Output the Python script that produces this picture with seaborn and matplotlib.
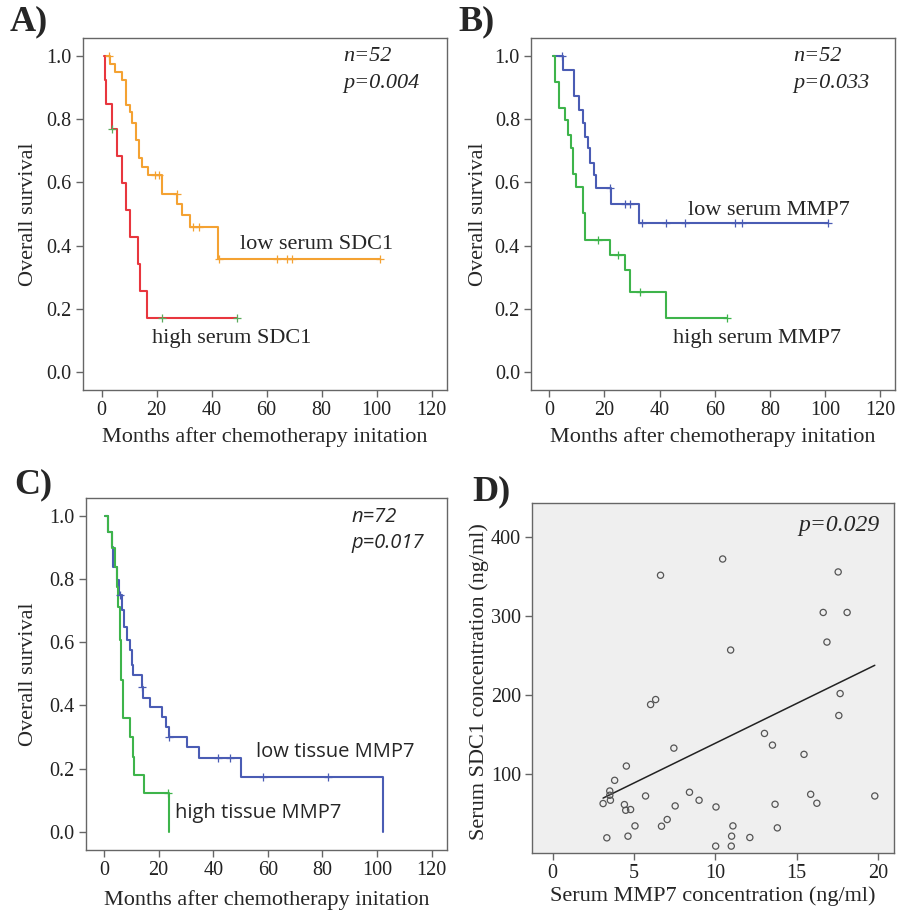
import numpy as np
import pandas as pd
import matplotlib
matplotlib.use("Agg")
import matplotlib.pyplot as plt
import seaborn as sns

# ---------------- data ----------------
# Panel A: serum SDC1
a_low_t = [1.2, 3.2, 4.8, 7.3, 8.7, 10.3, 11.1, 12.5, 13.7, 14.5, 17.0, 21.8, 27.5, 29.1, 32.1, 42.2, 101.2]
a_low_s = [1.0, 0.974, 0.948, 0.923, 0.845, 0.823, 0.787, 0.734, 0.677, 0.650, 0.623, 0.563, 0.532, 0.497, 0.460, 0.357, 0.357]
a_low_c = [2.8, 19.5, 21.0, 27.3, 33.3, 35.5, 42.6, 63.6, 67.3, 69.1, 101.2]
a_high_t = [1.0, 1.3, 1.6, 3.6, 5.7, 7.5, 8.7, 10.3, 13.3, 13.9, 16.4, 49.1]
a_high_s = [1.0, 0.923, 0.846, 0.769, 0.684, 0.598, 0.513, 0.427, 0.342, 0.256, 0.171, 0.171]
a_high_c = [3.8, 21.8, 49.1]

# Panel B: serum MMP7
b_low_t = [1.5, 5.1, 9.1, 10.9, 12.1, 13.0, 13.9, 14.7, 16.3, 16.9, 22.4, 32.5, 101.1]
b_low_s = [1.0, 0.955, 0.872, 0.828, 0.786, 0.744, 0.707, 0.662, 0.623, 0.581, 0.531, 0.472, 0.472]
b_low_c = [4.5, 22.0, 27.4, 29.2, 33.5, 42.5, 49.2, 67.3, 69.7, 101.1]
b_high_t = [1.5, 2.1, 3.6, 5.7, 6.9, 7.8, 8.7, 9.7, 12.3, 12.9, 22.0, 27.4, 29.2, 42.3, 64.3]
b_high_s = [1.0, 0.918, 0.834, 0.797, 0.749, 0.710, 0.626, 0.586, 0.502, 0.417, 0.370, 0.323, 0.255, 0.171, 0.171]
b_high_c = [17.8, 25.0, 32.9, 64.3]

# Panel C: tissue MMP7
c_low_t = [0.4, 1.6, 2.8, 3.4, 4.6, 5.6, 6.7, 7.4, 8.3, 9.5, 10.1, 10.7, 13.8, 14.2, 16.8, 21.1, 22.7, 23.8, 30.3, 34.8, 50.1, 102.1]
c_low_s = [1.0, 0.950, 0.903, 0.839, 0.797, 0.750, 0.702, 0.649, 0.607, 0.576, 0.528, 0.496, 0.459, 0.423, 0.396, 0.364, 0.333, 0.301, 0.269, 0.232, 0.174, 0.0]
c_low_c = [5.8, 13.8, 23.9, 41.9, 46.2, 58.4, 82.2]
c_high_t = [0.4, 1.6, 2.8, 4.0, 4.6, 5.2, 5.9, 6.2, 6.8, 9.5, 10.5, 11.0, 14.8, 23.8]
c_high_s = [1.0, 0.95, 0.90, 0.839, 0.776, 0.713, 0.607, 0.480, 0.359, 0.301, 0.238, 0.180, 0.122, 0.0]
c_high_c = [23.6]

# Panel D: scatter
mmp7 = [10.45, 6.63, 17.55, 16.63, 18.1, 10.94, 16.86, 17.67, 17.59, 6.33, 6.02, 13.02, 13.51, 7.45,
        15.45, 4.53, 3.81, 3.51, 3.51, 3.55, 3.10, 4.41, 4.49, 4.79, 5.71, 8.41, 9.0, 7.53, 10.04,
        7.04, 5.06, 6.69, 3.33, 4.63, 11.08, 11.0, 12.12, 10.02, 10.98, 13.67, 13.81, 15.86, 16.24, 19.8]
sdc1 = [372.7, 352.1, 356.3, 305.0, 305.0, 257.4, 267.5, 202.3, 174.5, 194.7, 188.4, 151.8, 137.0, 133.2,
        125.3, 110.5, 92.4, 78.9, 73.5, 67.2, 63.0, 61.7, 54.5, 55.4, 72.6, 77.3, 67.2, 60.0, 58.7,
        42.8, 34.7, 34.3, 19.6, 21.7, 34.7, 21.7, 20.0, 9.1, 9.1, 62.1, 32.2, 74.7, 63.4, 72.6]
# fitted line as printed in the figure
fit_slope = 10.07
fit_intercept = 38.7

km_ticks = [0, 20, 40, 60, 80, 100, 120]
surv_ticks = [0.0, 0.2, 0.4, 0.6, 0.8, 1.0]

# ---------------- style ----------------
sns.set_style("ticks")
plt.rcParams["font.family"] = ["Liberation Serif", "DejaVu Serif"]
SERIF = "Liberation Serif"
SANS = "Open Sans"

ORANGE = "#F4A232"
RED = "#E8363E"
BLUE = "#4A5CB4"
GREEN = "#3EB44B"
SPINE = "#666666"

W, H = 900, 918
fig = plt.figure(figsize=(9, 9.18), dpi=100)


def add_ax(l, r, t, b):
    return fig.add_axes([l / W, 1 - b / H, (r - l) / W, (b - t) / H])


def style_ax(ax):
    for sp in ax.spines.values():
        sp.set_color(SPINE)
        sp.set_linewidth(1.0)
    ax.tick_params(direction="out", length=5, width=1, color=SPINE,
                   labelsize=14.5, labelcolor="#222222", pad=3)
    for lab in ax.get_xticklabels() + ax.get_yticklabels():
        lab.set_fontfamily(SERIF)


def km(ax, t, s, cens, color, ccolor):
    df = pd.DataFrame({"t": t, "s": s})
    sns.lineplot(data=df, x="t", y="s", ax=ax, color=color, lw=1.5,
                 drawstyle="steps-post", estimator=None, sort=False)
    t_arr = np.asarray(t)
    s_arr = np.asarray(s)
    idx = np.clip(np.searchsorted(t_arr, cens, side="right") - 1, 0, len(s_arr) - 1)
    cdf = pd.DataFrame({"t": cens, "s": s_arr[idx]})
    sns.scatterplot(data=cdf, x="t", y="s", ax=ax, marker="+", s=28, color=ccolor,
                    linewidth=0.9, zorder=4)


def km_axes(ax, xlim, ylim):
    ax.set_xlim(*xlim)
    ax.set_ylim(*ylim)
    ax.set_xticks(km_ticks)
    ax.set_yticks(surv_ticks)
    ax.set_yticklabels([f"{v:.1f}" for v in surv_ticks])
    ax.set_xlabel("Months after chemotherapy initation", fontsize=16, fontfamily=SERIF)
    ax.set_ylabel("Overall survival", fontsize=16, fontfamily=SERIF)
    style_ax(ax)


# ---- Panel A ----
axA = add_ax(82.7, 446.7, 38.3, 390)
km(axA, a_low_t, a_low_s, a_low_c, ORANGE, ORANGE)
km(axA, a_high_t, a_high_s, a_high_c, RED, "#5DAA5D")
km_axes(axA, (-6.9, 125.5), (-0.056, 1.055))
axA.xaxis.set_label_coords(0.5, -0.105)
axA.yaxis.set_label_coords(-0.124, 0.5)
axA.text(87.9, 0.997, "n=52", fontsize=16, style="italic", va="center", fontfamily=SERIF)
axA.text(87.9, 0.912, "p=0.004", fontsize=16, style="italic", va="center", fontfamily=SERIF)
axA.text(50.3, 0.405, "low serum SDC1", fontsize=16, va="center", fontfamily=SERIF)
axA.text(18.2, 0.137, "high serum SDC1", fontsize=16, va="top", fontfamily=SERIF)

# ---- Panel B ----
axB = add_ax(531, 895, 38.3, 390)
km(axB, b_low_t, b_low_s, b_low_c, BLUE, BLUE)
km(axB, b_high_t, b_high_s, b_high_c, GREEN, GREEN)
km_axes(axB, (-6.6, 125.3), (-0.056, 1.055))
axB.xaxis.set_label_coords(0.5, -0.105)
axB.yaxis.set_label_coords(-0.119, 0.5)
axB.text(88.4, 0.997, "n=52", fontsize=16, style="italic", va="center", fontfamily=SERIF)
axB.text(88.4, 0.912, "p=0.033", fontsize=16, style="italic", va="center", fontfamily=SERIF)
axB.text(50.4, 0.512, "low serum MMP7", fontsize=16, va="center", fontfamily=SERIF)
axB.text(44.7, 0.137, "high serum MMP7", fontsize=16, va="top", fontfamily=SERIF)

# ---- Panel C ----
axC = add_ax(85.7, 447, 498.3, 850)
km(axC, c_low_t, c_low_s, c_low_c, BLUE, BLUE)
km(axC, c_high_t, c_high_s, c_high_c, GREEN, GREEN)
km_axes(axC, (-6.7, 125.6), (-0.058, 1.056))
axC.xaxis.set_label_coords(0.5, -0.115)
axC.yaxis.set_label_coords(-0.133, 0.5)
axC.text(90.7, 0.998, "n=72", fontsize=14.5, style="italic", va="center", fontfamily=SANS)
axC.text(90.7, 0.913, "p=0.017", fontsize=14.5, style="italic", va="center", fontfamily=SANS)
axC.text(55.7, 0.253, "low tissue MMP7", fontsize=14.5, va="center", fontfamily=SANS)
axC.text(26.0, 0.058, "high tissue MMP7", fontsize=14.5, va="center", fontfamily=SANS)

# ---- Panel D ----
axD = add_ax(532, 894.3, 502.7, 853.3)
axD.set_facecolor("#EFEFEF")
sns.scatterplot(x=mmp7, y=sdc1, ax=axD, marker="o", s=20, facecolor="none",
                edgecolor="#555555", linewidth=0.9, zorder=3)
x_fit = np.array([min(mmp7), max(mmp7)])
sns.lineplot(x=x_fit, y=fit_intercept + fit_slope * x_fit, ax=axD, color="#222222", lw=1.1)
axD.set_xlim(-1.27, 21.0)
axD.set_ylim(0, 444)
axD.set_xticks([0, 5, 10, 15, 20])
axD.set_yticks([100, 200, 300, 400])
axD.set_xlabel("Serum MMP7 concentration (ng/ml)", fontsize=16, fontfamily=SERIF)
axD.set_ylabel("Serum SDC1 concentration (ng/ml)", fontsize=16, fontfamily=SERIF)
style_ax(axD)
axD.xaxis.set_label_coords(0.5, -0.095)
axD.yaxis.set_label_coords(-0.118, 0.49)
axD.text(20.1, 415.7, "p=0.029", fontsize=17, style="italic", ha="right", va="center",
         fontfamily=SERIF)

# ---- panel letters ----
for lab, x, y in [("A)", 10, 22), ("B)", 458, 22), ("C)", 14, 485), ("D)", 472, 492)]:
    fig.text(x / W, 1 - y / H, lab, fontsize=26, fontweight="bold", fontfamily=SERIF,
             va="center", ha="left")

fig.savefig("out.png", dpi=100, facecolor="white")
